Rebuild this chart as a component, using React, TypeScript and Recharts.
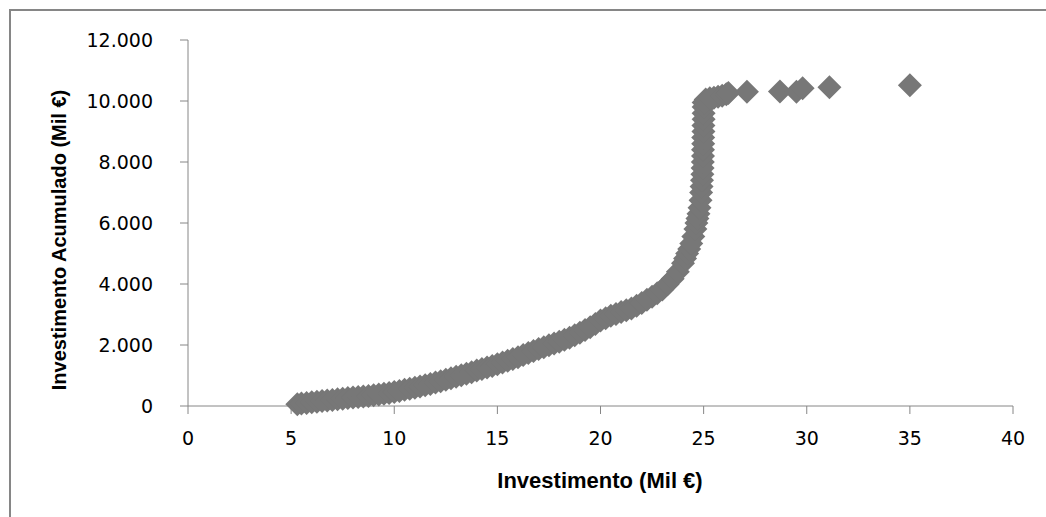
// Investimento acumulado vs investimento individual (dispersão, marcadores losango)
import React from 'react'
import { ScatterChart, Scatter, XAxis, YAxis } from 'recharts'

// valores (Mil €)
const investimento = [
  5.3, 5.5, 5.75, 6.0, 6.25, 6.5, 6.75, 7.0, 7.25, 7.5, 7.75, 8.0, 8.25, 8.5, 8.75,
  9.0, 9.25, 9.5, 9.75, 10.0, 10.25, 10.5, 10.75, 11.0, 11.25, 11.5, 11.75, 12.0,
  12.25, 12.5, 12.75, 13.0, 13.25, 13.5, 13.75, 14.0, 14.25, 14.5, 14.75, 15.0,
  15.25, 15.5, 15.75, 16.0, 16.25, 16.5, 16.75, 17.0, 17.25, 17.5, 17.75, 18.0,
  18.25, 18.5, 18.75, 19.0, 19.25, 19.5, 19.75, 20.0, 20.25, 20.5, 20.75, 21.0,
  21.25, 21.5, 21.75, 22.0, 22.25, 22.5, 22.75, 23.0, 23.25, 23.5, 23.75, 24.0,
  24.1, 24.2, 24.3, 24.4, 24.5, 24.6, 24.65, 24.7, 24.75, 24.8, 24.85, 24.88,
  24.9, 24.92, 24.94, 24.95, 24.96, 24.97, 24.97, 24.98, 24.98, 24.99, 24.99,
  25.0, 25.0, 25.0, 25.0, 25.1, 25.3, 25.5, 25.7, 25.9, 26.1, 26.2, 27.1, 28.7,
  29.5, 29.8, 31.1, 35.0,
]
const acumulado = [
  60, 80, 100, 120, 140, 160, 180, 200, 220, 240, 260, 280, 295, 310, 330,
  350, 375, 400, 430, 460, 495, 530, 565, 600, 640, 680, 725, 770,
  815, 860, 910, 960, 1010, 1060, 1110, 1160, 1210, 1260, 1315, 1370,
  1425, 1480, 1540, 1600, 1670, 1740, 1805, 1870, 1930, 1990, 2050, 2110,
  2175, 2240, 2320, 2400, 2490, 2580, 2690, 2800, 2880, 2960, 3020, 3080,
  3140, 3200, 3290, 3380, 3480, 3580, 3700, 3820, 3990, 4170, 4400, 4680,
  4840, 5000, 5150, 5330, 5560, 5800, 6000, 6150, 6300, 6500, 6750, 7000,
  7200, 7400, 7600, 7800, 8000, 8200, 8400, 8600, 8800, 9000, 9200,
  9400, 9600, 9800, 9950, 10050, 10090, 10110, 10140, 10170, 10220, 10260, 10300, 10310,
  10300, 10420, 10450, 10520,
]

const xTicks = [0, 5, 10, 15, 20, 25, 30, 35, 40]
const yTicks = [0, 2000, 4000, 6000, 8000, 10000, 12000]

const data = investimento.map((x, i) => ({ x, y: acumulado[i] }))

const AXIS = '#868686'
const MARK = '#777777'

// losango tipo Excel (quadrado rodado)
function Losango(props: { cx?: number; cy?: number }) {
  const { cx = 0, cy = 0 } = props
  const r = 12
  return (
    <polygon
      points={`${cx},${cy - r} ${cx + r},${cy} ${cx},${cy + r} ${cx - r},${cy}`}
      fill={MARK}
    />
  )
}

const fmtY = (v: number) => (v === 0 ? '0' : `${v / 1000}.000`)

export default function App() {
  const tick = { fontSize: 19, fill: '#000', fontFamily: 'DejaVu Sans' }
  return (
    <div style={{ position: 'absolute', left: 0, top: 0, width: 1046, height: 517, background: '#fff', overflow: 'hidden' }}>
      <div style={{
        position: 'absolute',
        left: 9,
        top: 9,
        width: 1100,
        height: 600,
        borderTop: `2px solid ${AXIS}`,
        borderLeft: `2px solid ${AXIS}`,
      }} />
      <ScatterChart
        width={1046}
        height={517}
        margin={{ top: 40, right: 33, bottom: 81, left: 128 }}
        style={{ position: 'absolute', left: 0, top: 0 }}
      >
        <XAxis
          type="number"
          dataKey="x"
          domain={[0, 40]}
          ticks={xTicks}
          interval={0}
          height={30}
          stroke={AXIS}
          tickSize={8}
          tickMargin={18}
          tick={tick}
        />
        <YAxis
          type="number"
          dataKey="y"
          domain={[0, 12000]}
          ticks={yTicks}
          interval={0}
          width={60}
          stroke={AXIS}
          tickSize={8}
          tickMargin={27}
          tick={tick}
          tickFormatter={fmtY}
        />
        <Scatter data={data} fill={MARK} shape={<Losango />} isAnimationActive={false} />
      </ScatterChart>
      <svg width={1046} height={517} style={{ position: 'absolute', left: 0, top: 0, pointerEvents: 'none' }}>
        <text
          x={600}
          y={480}
          textAnchor="middle"
          dominantBaseline="central"
          fontFamily="Liberation Sans"
          fontWeight="bold"
          fontSize={22}
          fill="#000"
        >
          Investimento (Mil €)
        </text>
        <text
          transform="translate(59, 240) rotate(-90)"
          textAnchor="middle"
          dominantBaseline="central"
          fontFamily="Liberation Sans"
          fontWeight="bold"
          fontSize={20}
          fill="#000"
        >
          Investimento Acumulado (Mil €)
        </text>
      </svg>
    </div>
  )
}
